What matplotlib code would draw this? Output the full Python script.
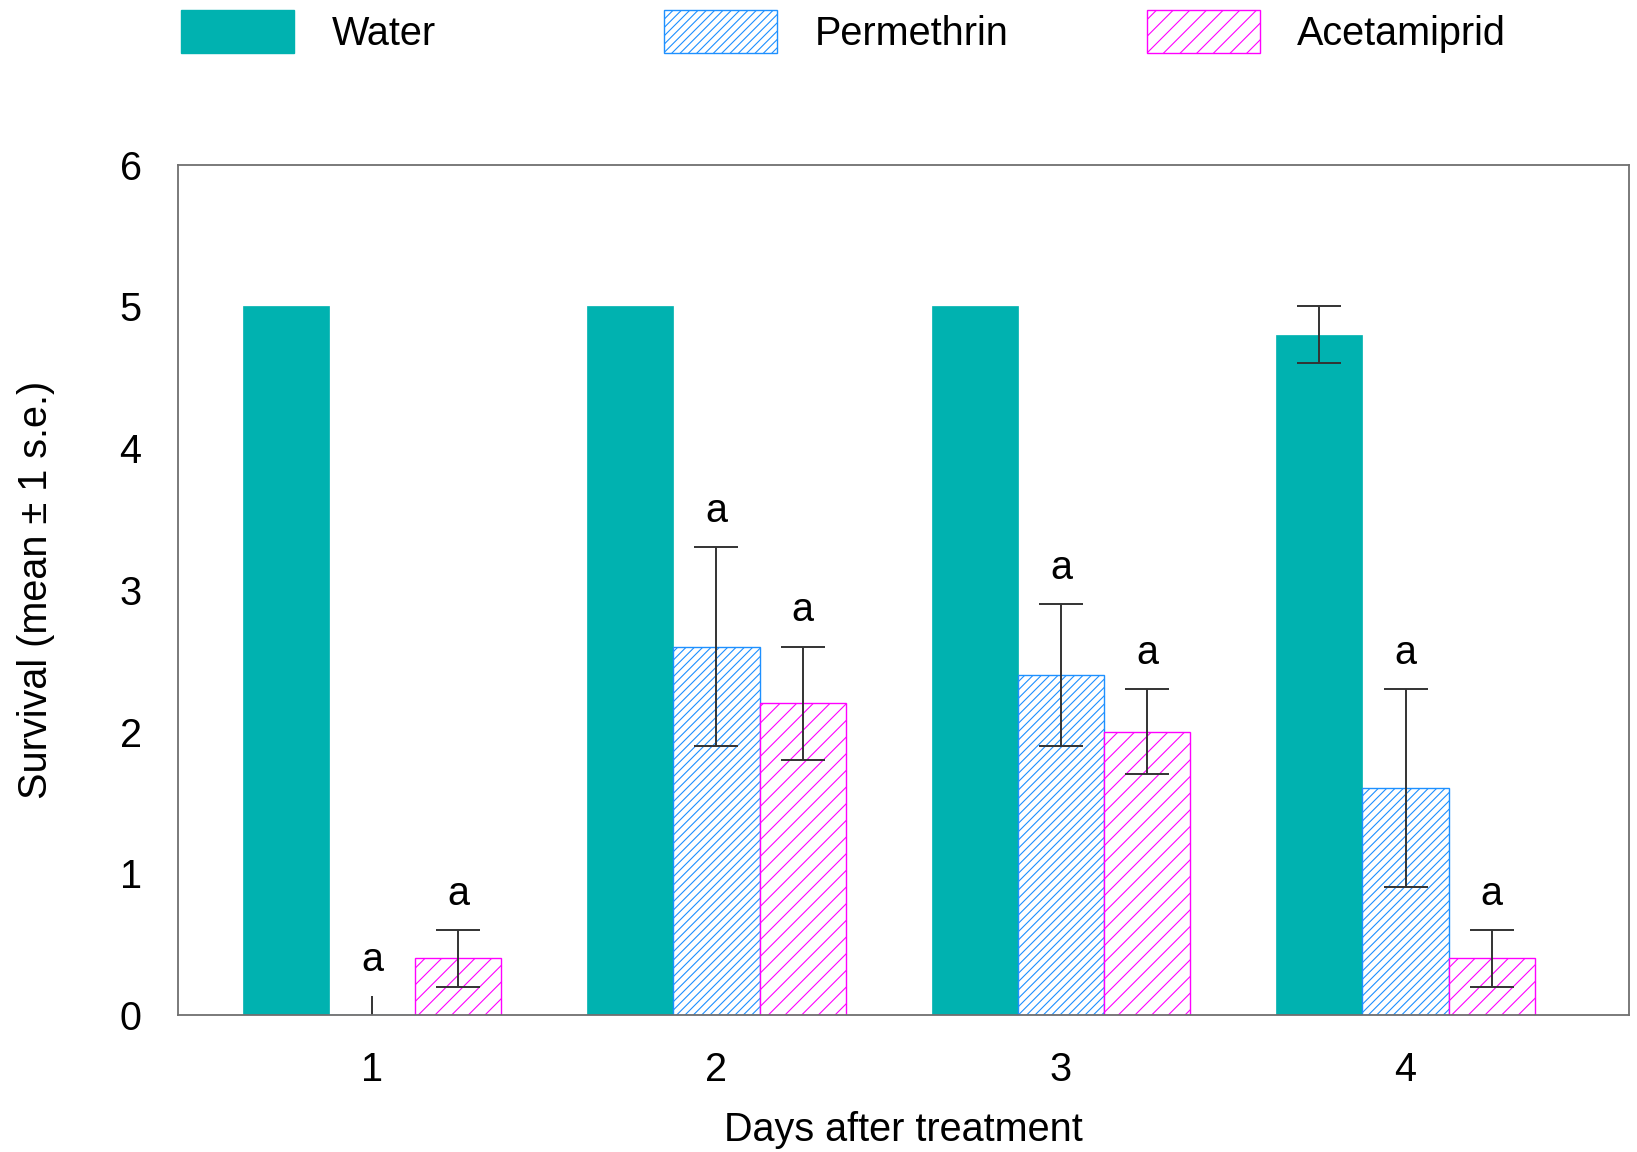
import numpy as np
import matplotlib.pyplot as plt
from matplotlib.patches import Patch

plt.rcParams['font.family'] = ['Liberation Sans', 'DejaVu Sans']
plt.rcParams['hatch.linewidth'] = 0.8

days = [1, 2, 3, 4]
treatments = ['Water', 'Permethrin', 'Acetamiprid']

water_mean = [5.0, 5.0, 5.0, 4.8]
water_se = [0.0, 0.0, 0.0, 0.2]
perm_mean = [0.0, 2.6, 2.4, 1.6]
perm_se = [0.13, 0.7, 0.5, 0.7]
acet_mean = [0.4, 2.2, 2.0, 0.4]
acet_se = [0.2, 0.4, 0.3, 0.2]

# significance letters for the insecticide bars
perm_letters = ['a', 'a', 'a', 'a']
acet_letters = ['a', 'a', 'a', 'a']

teal = '#00B2B0'
blue = '#1E90FF'
magenta = '#FF00FF'
fs = 28.5

fig = plt.figure(figsize=(16.37, 11.52), dpi=100)
ax = fig.add_axes([0.1085, 0.119, 0.8865, 0.738])

x = np.array(days, dtype=float)
w = 0.25

ax.bar(x - w, water_mean, w, color=teal, edgecolor=teal, linewidth=0.5)
ax.bar(x, perm_mean, w, color='white', edgecolor=blue, hatch='////', linewidth=1.0)
ax.bar(x + w, acet_mean, w, color='white', edgecolor=magenta, hatch='//', linewidth=1.0)

err_kw = dict(fmt='none', ecolor='#333333', elinewidth=1.4, capthick=1.4)

# water: only draw bars where there is a spread
for xi, m, s in zip(x - w, water_mean, water_se):
    if s > 0:
        ax.errorbar(xi, m, yerr=s, capsize=16, **err_kw)

for offset, means, ses, letters in [(0, perm_mean, perm_se, perm_letters),
                                    (w, acet_mean, acet_se, acet_letters)]:
    for xi, m, s, lab in zip(x + offset, means, ses, letters):
        if m == 0:
            # zero survival: single stub above the baseline
            ax.errorbar(xi, m, yerr=[[0], [s]], capsize=0, **err_kw)
        else:
            ax.errorbar(xi, m, yerr=s, capsize=16, **err_kw)
        ax.text(xi, m + s + 0.12, lab, ha='center', va='bottom', fontsize=fs)

ax.set_xlim(0.436, 4.648)
ax.set_ylim(0, 6)
ax.set_xticks(days)
ax.set_yticks(range(0, 7))
ax.tick_params(axis='both', length=0, labelsize=fs)
ax.tick_params(axis='y', pad=26)
ax.tick_params(axis='x', pad=26)
for sp in ax.spines.values():
    sp.set_color('#707070')
    sp.set_linewidth(1.3)

ax.set_xlabel('Days after treatment', fontsize=fs, labelpad=16)
ax.set_ylabel('Survival (mean \u00b1 1 s.e.)', fontsize=fs, labelpad=46)

handles = [
    Patch(facecolor=teal, edgecolor=teal),
    Patch(facecolor='white', edgecolor=blue, hatch='////'),
    Patch(facecolor='white', edgecolor=magenta, hatch='//'),
]
legend_x = [0.089, 0.384, 0.679]
for h, lab, lx in zip(handles, treatments, legend_x):
    fig.legend([h], [lab], loc='upper left', bbox_to_anchor=(lx, 1.022),
               frameon=False, fontsize=fs, handlelength=2.84,
               handleheight=1.3, handletextpad=0.95)

fig.savefig('out.png', dpi=100)
